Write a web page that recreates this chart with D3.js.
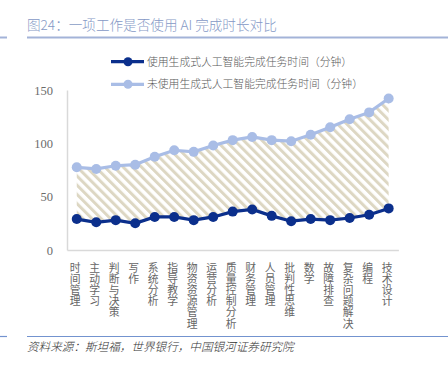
<!DOCTYPE html>
<html><head><meta charset="utf-8">
<script src="https://cdn.jsdelivr.net/npm/d3@7"></script>
<style>body{margin:0;background:#fff;}svg{display:block;}</style>
</head><body>
<svg id="c" width="448" height="366"></svg>
<script>
const categories = ["时间管理","主动学习","判断与决策","写作","系统分析","指导教学","物资资源管理","运营分析","质量控制分析","财务管理","人员管理","批判性思维","数学","故障排查","复杂问题解决","编程","技术设计"];
const withAI = [29,26,28,25,31,31,28,31,36,38,32,27,29,28,30,33,39];
const withoutAI = [77.5,76,79,80,87.5,93.5,92,98,103,106,103,102,108,115,122.5,129,142];
const seriesNames = ["使用生成式人工智能完成任务时间（分钟）","未使用生成式人工智能完成任务时间（分钟）"];
const yTicks = [0,50,100,150];
const title = "图24：一项工作是否使用 AI 完成时长对比";
const source = "资料来源：斯坦福，世界银行，中国银河证券研究院";

const svg = d3.select("#c");
const darkC = "#0b2f8c", lightC = "#a9bde6";
const cjk = "'Noto Sans CJK SC', sans-serif";

const defs = svg.append("defs");
const pat = defs.append("pattern").attr("id","hatch").attr("patternUnits","userSpaceOnUse")
  .attr("width",6.5).attr("height",6.5).attr("patternTransform","rotate(-45)");
pat.append("rect").attr("width",3).attr("height",6.5).attr("fill","#ddd7c3");

// header
svg.append("text").attr("x",27).attr("y",30).text(title)
  .attr("font-family",cjk).attr("font-size",13.6).attr("font-weight",300).attr("fill","#8599c6");
svg.append("line").attr("x1",27).attr("x2",448).attr("y1",37.5).attr("y2",37.5).attr("stroke","#a3b3d8").attr("stroke-width",2);
svg.append("line").attr("x1",0).attr("x2",7).attr("y1",37.5).attr("y2",37.5).attr("stroke","#a3b3d8").attr("stroke-width",2);

const x = d3.scaleBand().domain(categories).range([67,398.4]);
const y = d3.scaleLinear().domain([0,150]).range([250,90]);
const cx = d => x(d) + x.bandwidth()/2;

// axes
const yAxis = svg.append("g").attr("transform","translate(67,0)")
  .call(d3.axisLeft(y).tickValues(yTicks).tickSize(0).tickPadding(14));
yAxis.select(".domain").attr("stroke","#d9d9d9").attr("stroke-width",1.5);
yAxis.selectAll("text").attr("font-family","'Liberation Serif', serif").attr("font-size",12.5).attr("fill","#6b6b6b");
const xAxis = svg.append("g").attr("transform","translate(0,250)")
  .call(d3.axisBottom(x).tickSize(0).tickFormat(""));
xAxis.select(".domain").attr("stroke","#d9d9d9").attr("stroke-width",1.5);

// vertical category labels
svg.selectAll(null).data(categories).enter().append("text")
  .attr("x", d => cx(d)-1.5).attr("y", 262)
  .style("writing-mode","vertical-rl").style("letter-spacing","0.4px")
  .attr("font-family",cjk).attr("font-size",10.8).attr("fill","#666")
  .text(d => d);

// hatched area
const idx = d3.range(categories.length);
const area = d3.area().x(i => cx(categories[i])).y0(i => y(withAI[i])).y1(i => y(withoutAI[i]));
svg.append("path").datum(idx).attr("d",area).attr("fill","url(#hatch)");

function series(vals,color){
  const line = d3.line().x((d,i)=>cx(categories[i])).y(d=>y(d));
  svg.append("path").datum(vals).attr("d",line).attr("fill","none").attr("stroke",color).attr("stroke-width",3.2);
  svg.selectAll(null).data(vals).enter().append("circle")
    .attr("cx",(d,i)=>cx(categories[i])).attr("cy",d=>y(d)).attr("r",5).attr("fill",color);
}
series(withoutAI,lightC);
series(withAI,darkC);

// legend
[[darkC,61.7,seriesNames[0]],[lightC,84.3,seriesNames[1]]].forEach(([col,yy,name])=>{
  svg.append("line").attr("x1",111).attr("x2",144).attr("y1",yy).attr("y2",yy).attr("stroke",col).attr("stroke-width",3.2);
  svg.append("circle").attr("cx",128).attr("cy",yy).attr("r",4.5).attr("fill",col);
  svg.append("text").attr("x",147).attr("y",yy+4).text(name)
    .attr("font-family",cjk).attr("font-size",10.8).attr("font-weight",300).attr("fill","#595959");
});

// footer
svg.append("line").attr("x1",27).attr("x2",448).attr("y1",336.5).attr("y2",336.5).attr("stroke","#7393cf").attr("stroke-width",1.2);
svg.append("line").attr("x1",0).attr("x2",7).attr("y1",336.5).attr("y2",336.5).attr("stroke","#7393cf").attr("stroke-width",1.2);
svg.append("text").attr("x",27).attr("y",351).text(source)
  .attr("font-family",cjk).attr("font-size",11.6).attr("font-style","italic").attr("font-weight",300).attr("fill","#333");
</script>
</body></html>
